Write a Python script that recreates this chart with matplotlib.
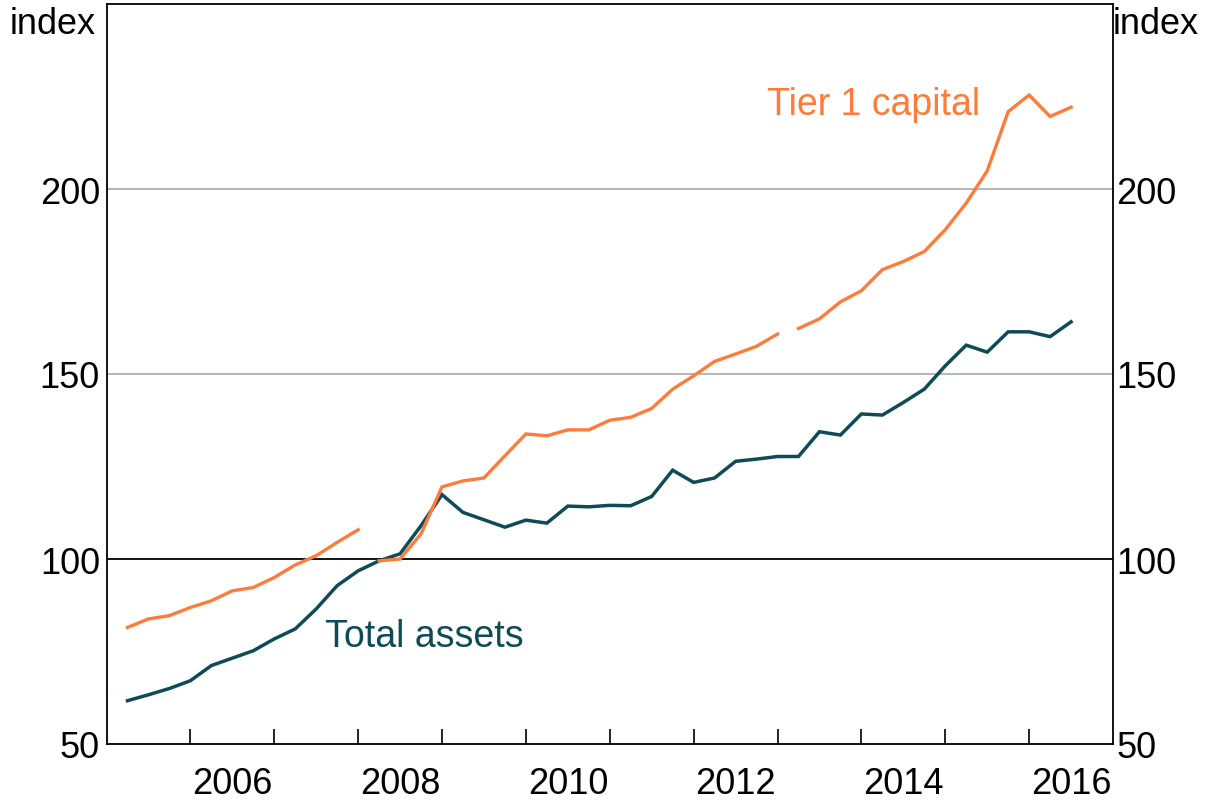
import matplotlib
matplotlib.use("Agg")
import matplotlib.pyplot as plt
import numpy as np

plt.rcParams['font.family'] = ['Liberation Sans', 'DejaVu Sans']

# Quarterly dates (end-of-quarter positions)
quarters = [2005.25 + 0.25 * i for i in range(46)]

total_assets = [61.7, 63.3, 65.0, 67.1, 71.2, 73.2, 75.2, 78.4, 81.1, 86.5, 92.8, 96.8,
                99.5, 101.4, 109.0, 117.4, 112.6, 110.6, 108.6, 110.5, 109.7, 114.3,
                114.1, 114.5, 114.4, 116.9, 124.0, 120.7, 121.9, 126.4, 127.0, 127.7,
                127.7, 134.4, 133.5, 139.2, 138.9, 142.3, 145.9, 152.2, 157.8, 155.9,
                161.4, 161.4, 160.1, 164.1]

tier1_capital = [81.5, 83.8, 84.7, 86.9, 88.7, 91.4, 92.3, 95.0, 98.4, 100.9, 104.5, 107.9,
                 99.5, 100.0, 106.8, 119.5, 121.1, 121.9, 127.9, 133.8, 133.3, 134.9,
                 134.9, 137.5, 138.3, 140.7, 145.9, 149.5, 153.4, 155.4, 157.5, 160.8,
                 162.3, 164.9, 169.5, 172.5, 178.2, 180.4, 183.1, 189.0, 196.2, 204.9,
                 220.9, 225.4, 219.6, 222.1]

# Series breaks in Tier 1 capital: a new segment starts at these dates
tier1_breaks = [2008.25, 2013.25]

year_ticks = list(range(2006, 2017))
year_labels = ['2006', '2008', '2010', '2012', '2014', '2016']
y_ticks = [50, 100, 150, 200]

orange = '#FF7B3A'
teal = '#0E4B57'

fig = plt.figure(figsize=(12.15, 8.03), dpi=100)
ax = fig.add_axes([106.5 / 1215, 1 - 745 / 803, (1113 - 106.5) / 1215, (745 - 5) / 803])

ax.set_xlim(2005, 2017)
ax.set_ylim(50, 250)

# gridlines
for v in [150, 200]:
    ax.axhline(v, color='#B0B0B0', lw=1.3, zorder=1)
ax.axhline(100, color='black', lw=1.3, zorder=1)

q = np.array(quarters)
ta = np.array(total_assets)
t1 = np.array(tier1_capital)

ax.plot(q, ta, color=teal, lw=2.5, zorder=3, solid_joinstyle='miter')

edges = [q[0] - 1] + tier1_breaks + [q[-1] + 1]
for a, b in zip(edges[:-1], edges[1:]):
    m = (q >= a) & (q < b)
    ax.plot(q[m], t1[m], color=orange, lw=2.4, zorder=4, solid_joinstyle='miter')

ax.text(2015.42, 223, 'Tier 1 capital', color=orange, fontsize=27, ha='right', va='center')
ax.text(2007.6, 79.2, 'Total assets', color=teal, fontsize=27, ha='left', va='center')

# x axis
ax.set_xticks(year_ticks)
ax.set_xticklabels([])
ax.tick_params(axis='x', which='major', direction='in', length=11, width=1.2, color='black')
ax.set_xticks([int(y) + 0.5 for y in year_labels], minor=True)
ax.set_xticklabels(year_labels, minor=True, fontsize=26)
ax.tick_params(axis='x', which='minor', length=0, pad=16)

# y axes
ax.set_yticks(y_ticks)
ax.set_yticklabels([str(v) for v in y_ticks], fontsize=26)
ax.tick_params(axis='y', which='both', length=0, labelleft=True, labelright=True)
ax.yaxis.set_ticks_position('none')
for t in ax.yaxis.get_major_ticks():
    t.label1.set_x(-0.0065)
    t.label1.set_horizontalalignment('right')
    t.label2.set_x(1.003)
    t.label2.set_horizontalalignment('left')
ax.yaxis.set_tick_params(pad=0)

for s in ax.spines.values():
    s.set_color('black')
    s.set_linewidth(1.3)

fig.text(10 / 1215, 1 - 25 / 803, 'index', fontsize=26, ha='left', va='center')
fig.text(1113 / 1215, 1 - 25 / 803, 'index', fontsize=26, ha='left', va='center')

fig.savefig('out.png', dpi=100)
